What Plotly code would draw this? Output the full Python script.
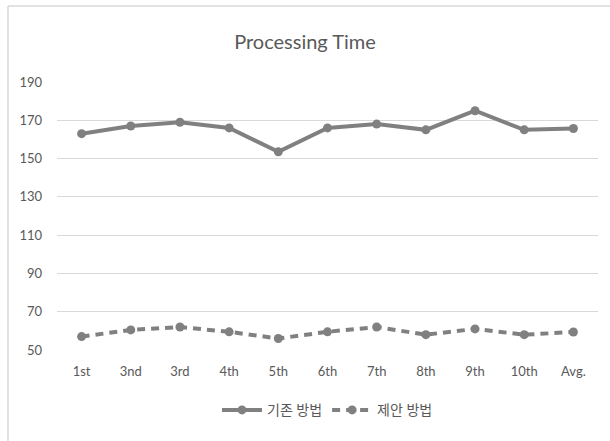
import plotly.graph_objects as go

# Trial labels and processing times for the two methods
trials = ["1st", "3nd", "3rd", "4th", "5th", "6th", "7th", "8th", "9th", "10th", "Avg."]
existing_method = [163, 167, 169, 166, 153.5, 166, 168, 165, 175, 165, 165.7]
proposed_method = [57, 60.5, 62, 59.5, 56, 59.5, 62, 58, 61, 58, 59.4]
y_ticks = [50, 70, 90, 110, 130, 150, 170, 190]

LINE_COLOR = "#808080"
TEXT_COLOR = "#595959"
FONT = "Lato, 'Noto Sans CJK KR', sans-serif"

fig = go.Figure()
fig.add_trace(go.Scatter(
    x=trials, y=existing_method, name="기존 방법",
    mode="lines+markers",
    line=dict(color=LINE_COLOR, width=4),
    marker=dict(color=LINE_COLOR, size=9, symbol="circle"),
))
fig.add_trace(go.Scatter(
    x=trials, y=proposed_method, name="제안 방법",
    mode="lines+markers",
    line=dict(color=LINE_COLOR, width=4, dash="8px,6px"),
    marker=dict(color=LINE_COLOR, size=9, symbol="circle"),
))

# Outer chart frame (left and top edges)
frame = dict(type="line", xref="paper", yref="paper",
             line=dict(color="#d9d9d9", width=1.5))
fig.add_shape(x0=-0.0906, x1=-0.0906, y0=-0.35, y1=1.2836, **frame)
fig.add_shape(x0=-0.0906, x1=1.03, y0=1.2836, y1=1.2836, **frame)

fig.update_layout(
    width=610, height=441,
    margin=dict(l=57, r=12, t=82, b=91),
    paper_bgcolor="white", plot_bgcolor="white",
    font=dict(family=FONT, color=TEXT_COLOR, size=13),
    title=dict(text="Processing Time", x=0.5, xanchor="center",
               y=0.905, yanchor="middle",
               font=dict(size=20, color=TEXT_COLOR, family=FONT)),
    showlegend=True,
    legend=dict(orientation="h", x=0.5, xanchor="center", y=-0.225, yanchor="middle",
                font=dict(size=14, color=TEXT_COLOR), itemwidth=40,
                traceorder="normal"),
    xaxis=dict(range=[-0.5, len(trials) - 0.5], showgrid=False, showline=False,
               zeroline=False, ticks="", ticklabelstandoff=12, automargin=False,
               tickfont=dict(size=13, color=TEXT_COLOR), fixedrange=True),
    yaxis=dict(range=[50, 190], tickvals=y_ticks, showgrid=True,
               gridcolor="#d9d9d9", gridwidth=1, zeroline=False, showline=False,
               ticks="", ticklabelstandoff=14, automargin=False,
               tickfont=dict(size=13, color=TEXT_COLOR), fixedrange=True),
)

fig.write_html("out.html")
